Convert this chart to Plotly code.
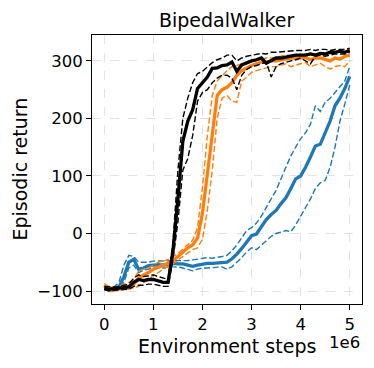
import numpy as np
import plotly.graph_objects as go

# environment steps, in millions
steps = np.round(np.arange(0, 5.01, 0.1), 1)

blue_mean = [-95, -96, -95, -93, -75, -50, -45, -62, -60, -56, -55, -54, -55, -53, -52, -53, -53, -55, -57, -55,
             -53, -52, -52, -51, -50, -50, -44, -36, -26, -14, -4, -1, 12, 24, 33, 40, 52, 62, 78, 95,
             100, 115, 133, 152, 155, 175, 195, 222, 235, 252, 273]
blue_hi = [-93, -94, -93, -85, -55, -38, -40, -50, -50, -50, -48, -48, -47, -47, -47, -48, -47, -47, -46, -45,
           -44, -42, -43, -42, -40, -38, -30, -20, -8, 5, 10, 18, 30, 45, 60, 75, 95, 115, 135, 150,
           165, 175, 190, 222, 212, 228, 235, 245, 255, 265, 290]
blue_lo = [-97, -98, -97, -97, -85, -60, -55, -68, -64, -62, -60, -60, -60, -58, -58, -58, -60, -62, -65, -62,
           -60, -60, -59, -58, -58, -62, -58, -50, -42, -32, -25, -28, -20, -12, -5, 0, 3, 5, 3, 15,
           30, 45, 60, 78, 88, 92, 115, 150, 195, 225, 258]

orange_mean = [-90, -98, -97, -95, -93, -92, -88, -78, -72, -68, -62, -58, -55, -52, -47, -40, -33, -25, -20, -8,
               35, 100, 170, 240, 250, 254, 262, 275, 283, 288, 292, 295, 298, 298, 300, 300, 302, 303, 305, 305,
               305, 306, 302, 305, 305, 303, 300, 305, 303, 308, 310]
orange_hi = [-87, -93, -93, -92, -88, -85, -80, -65, -62, -60, -55, -50, -48, -45, -40, -35, -27, -20, -12, 10,
             80, 170, 240, 265, 275, 283, 290, 292, 295, 296, 298, 300, 303, 305, 305, 307, 308, 310, 310, 310,
             312, 312, 310, 312, 313, 312, 312, 315, 315, 317, 320]
orange_lo = [-93, -102, -100, -98, -97, -97, -95, -92, -85, -82, -72, -68, -62, -58, -53, -46, -40, -33, -28, -25,
             -10, 40, 110, 200, 235, 240, 230, 228, 265, 272, 280, 283, 285, 288, 290, 290, 293, 295, 290, 293,
             295, 297, 290, 293, 296, 290, 286, 290, 292, 290, 300]

black_mean = [-95, -97, -96, -95, -94, -93, -85, -80, -82, -80, -80, -83, -85, -85, -30, 60, 160, 195, 215, 252,
              263, 272, 287, 288, 292, 293, 298, 282, 293, 297, 300, 302, 305, 296, 300, 305, 305, 307, 308, 310,
              310, 310, 312, 310, 313, 312, 315, 315, 317, 315, 318]
black_hi = [-92, -93, -93, -92, -90, -88, -78, -72, -75, -73, -72, -75, -78, -80, -15, 110, 200, 235, 262, 278,
            282, 290, 297, 302, 305, 310, 310, 300, 305, 308, 310, 312, 313, 312, 315, 315, 316, 316, 317, 318,
            318, 318, 320, 318, 320, 320, 318, 320, 320, 320, 322]
black_lo = [-98, -100, -99, -98, -97, -97, -92, -90, -90, -88, -88, -90, -92, -92, -45, 20, 110, 130, 170, 230,
            245, 250, 262, 270, 275, 275, 270, 250, 275, 285, 290, 292, 295, 298, 272, 290, 295, 298, 300, 302,
            305, 300, 295, 308, 310, 308, 310, 312, 312, 312, 315]

x = steps * 1e6

fig = go.Figure()
groups = [
    ("#1f77b4", blue_mean, blue_hi, blue_lo),
    ("#ff7f0e", orange_mean, orange_hi, orange_lo),
    ("black", black_mean, black_hi, black_lo),
]
for color, mean, hi, lo in groups:
    for d in (hi, lo):
        fig.add_trace(go.Scatter(x=x, y=d, mode="lines",
                                 line=dict(color=color, width=1.4, dash="6px,2.6px")))
    fig.add_trace(go.Scatter(x=x, y=mean, mode="lines",
                             line=dict(color=color, width=3.3)))

axis_style = dict(
    tickfont=dict(size=16.5, color="black"),
    ticks="outside", ticklen=5, tickcolor="black",
    showline=True, linecolor="black", linewidth=1, mirror=True,
    showgrid=True, gridcolor="#e3e3e3", griddash="dash", gridwidth=1,
    zeroline=False, automargin=False,
)
fig.update_xaxes(
    range=[-0.25e6, 5.25e6],
    tickvals=[0, 1e6, 2e6, 3e6, 4e6, 5e6],
    ticktext=["0", "1", "2", "3", "4", "5"],
    **axis_style,
)
fig.update_yaxes(
    range=[-122.6, 345],
    tickvals=[-100, 0, 100, 200, 300],
    ticktext=["\u2212100", "0", "100", "200", "300"],
    **axis_style,
)

# titles placed as annotations so the plot area keeps its size
fig.add_annotation(text="BipedalWalker", xref="paper", yref="paper", x=0.5, y=1,
                   yshift=15, yanchor="middle", showarrow=False,
                   font=dict(size=19, color="black"))
fig.add_annotation(text="Environment steps", xref="paper", yref="paper", x=0.5, y=0,
                   yshift=-42, yanchor="middle", showarrow=False,
                   font=dict(size=19, color="black"))
fig.add_annotation(text="Episodic return", xref="paper", yref="paper", x=0, y=0.5,
                   xshift=-73, textangle=-90, xanchor="center", showarrow=False,
                   font=dict(size=19, color="black"))
fig.add_annotation(text="1e6", xref="paper", yref="paper", x=1, y=0,
                   xanchor="right", yanchor="middle", yshift=-38, showarrow=False,
                   font=dict(size=16.5, color="black"))

fig.update_layout(
    width=374, height=368,
    margin=dict(l=92, r=12, t=35, b=64),
    font=dict(family="DejaVu Sans"),
    showlegend=False,
    plot_bgcolor="white", paper_bgcolor="white",
)
# the page body has a default 8px margin; drop it so the figure sits at the corner
fig.write_html("out.html", config={"displayModeBar": False},
               post_script="document.body.style.margin='0';")
